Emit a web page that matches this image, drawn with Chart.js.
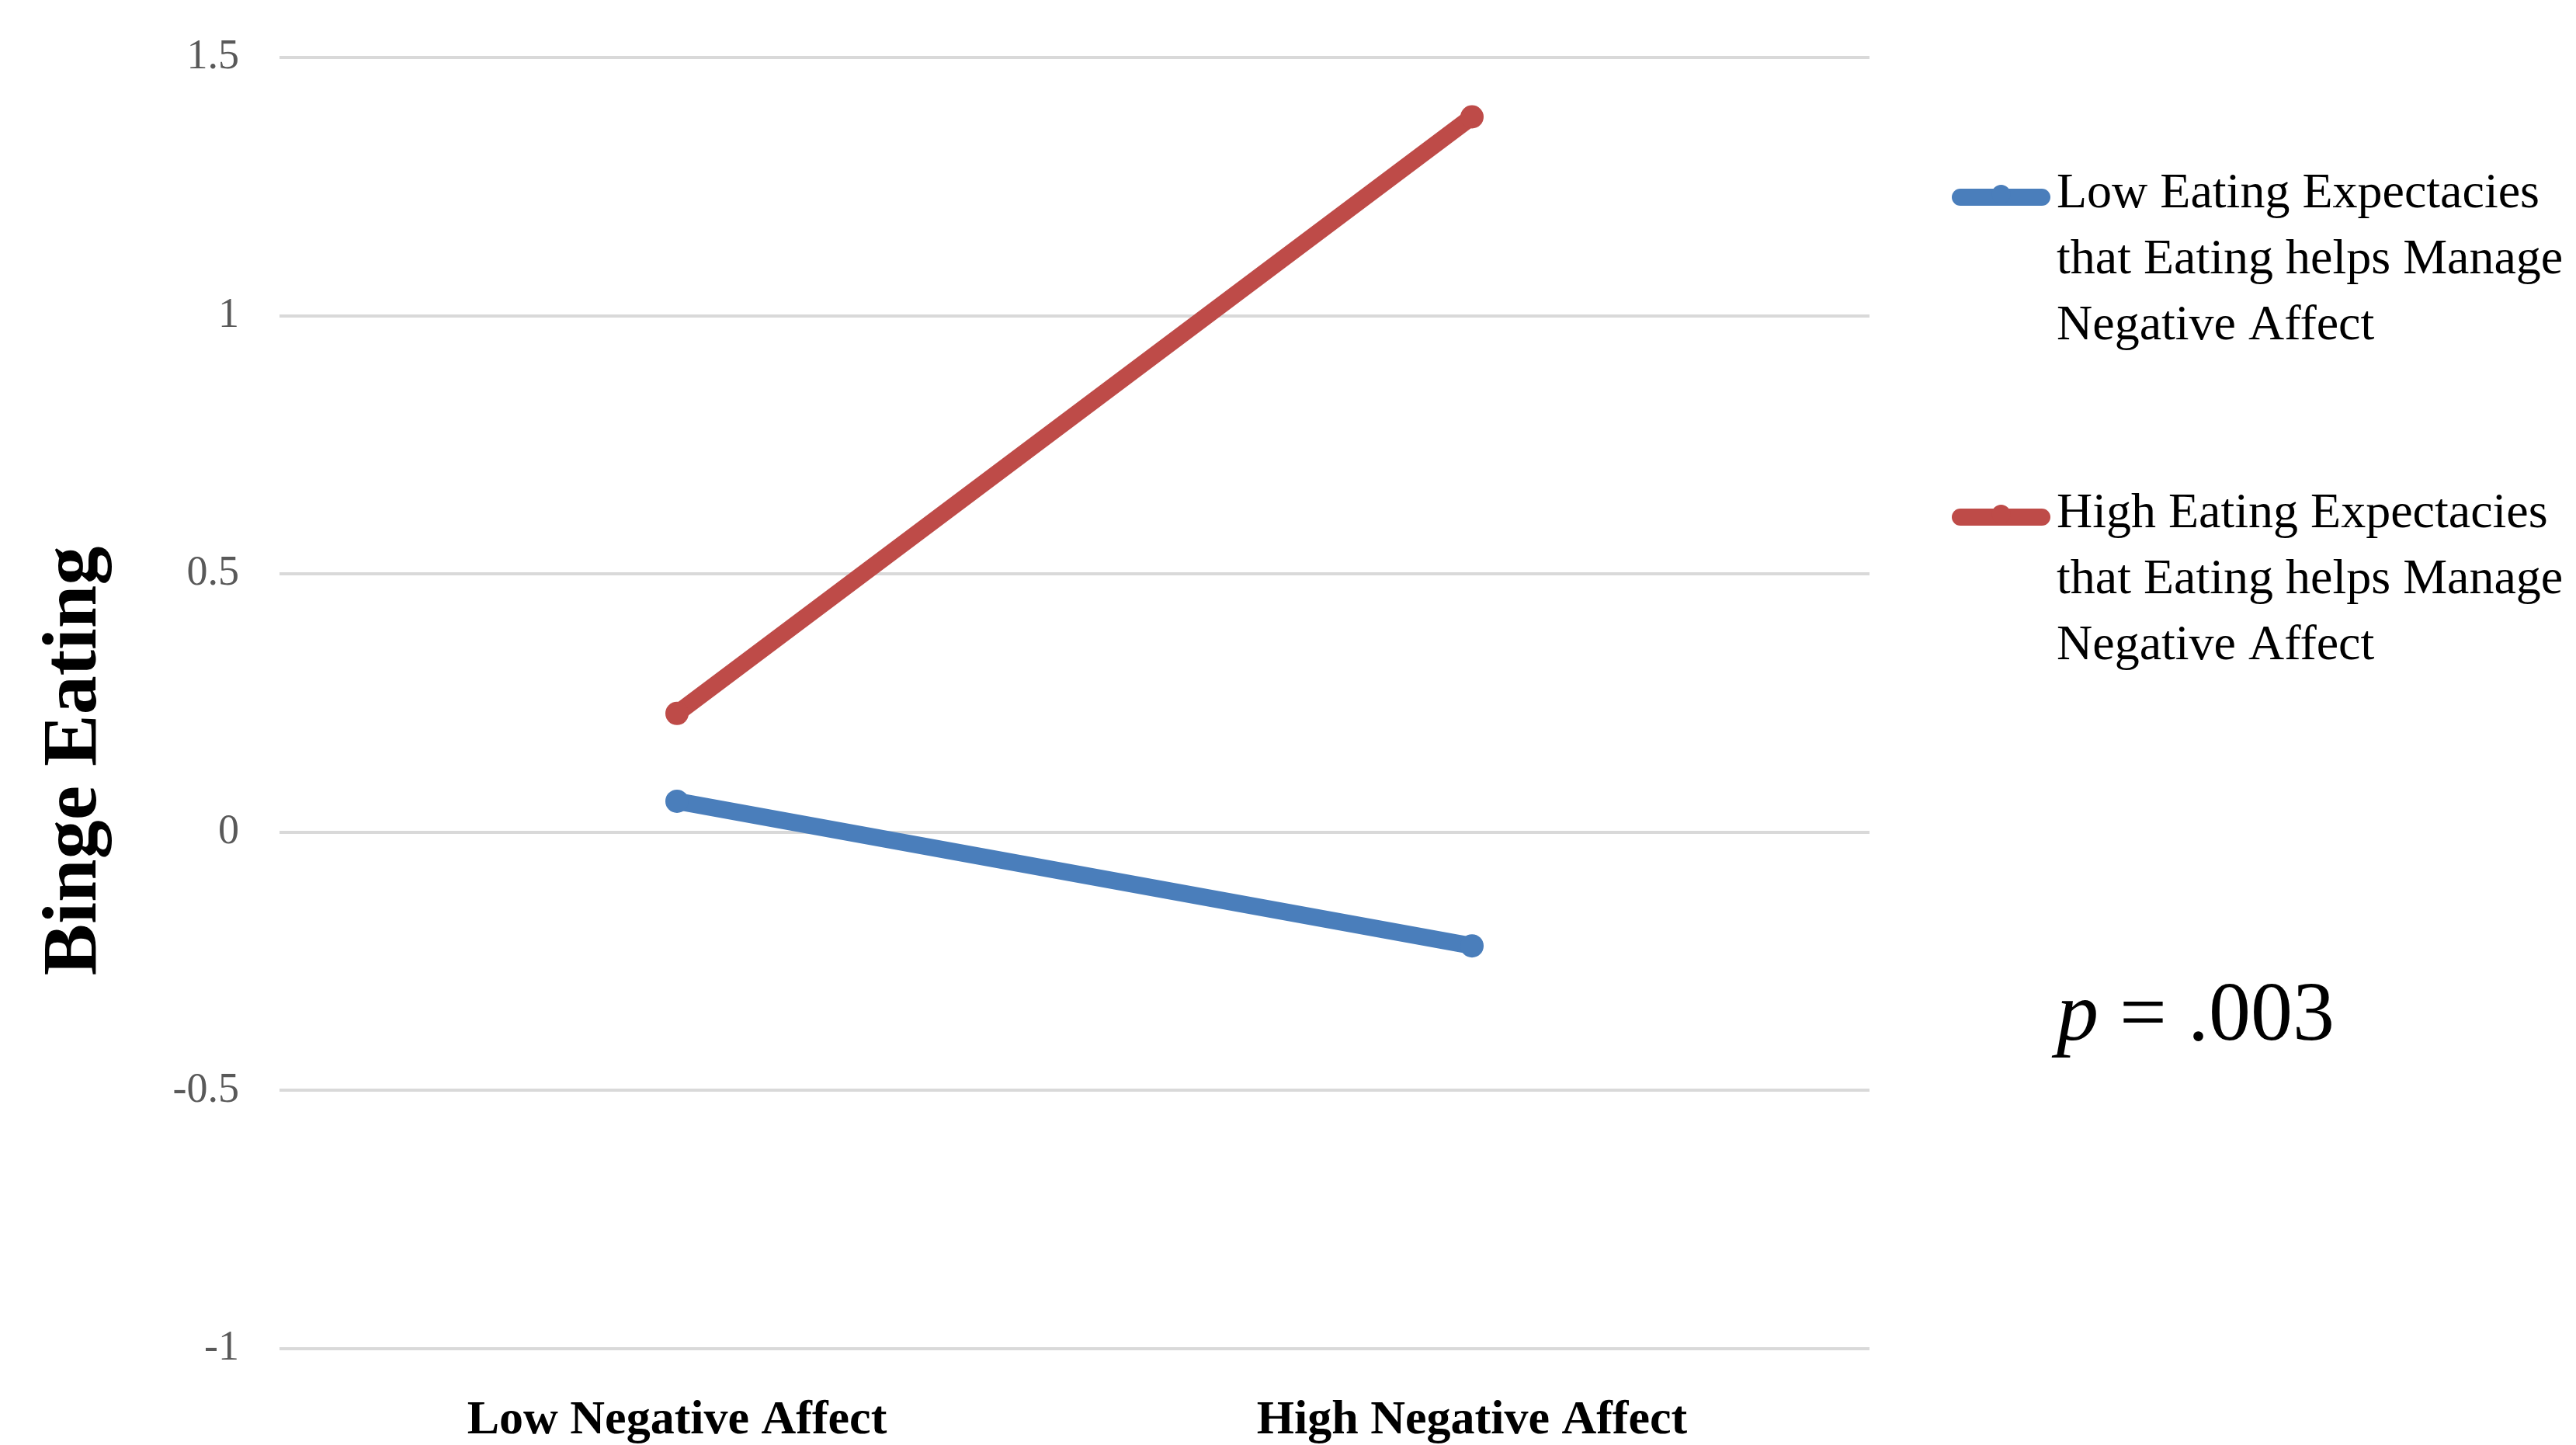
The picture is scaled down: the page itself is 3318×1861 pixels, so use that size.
<!DOCTYPE html>
<html>
<head>
<meta charset="utf-8">
<script src="https://cdn.jsdelivr.net/npm/chart.js@4/dist/chart.umd.min.js"></script>
<style>
  html, body { margin: 0; padding: 0; background: #ffffff; }
  #wrap { width: 3318px; height: 1861px; position: relative; }
</style>
</head>
<body>
<div id="wrap"><canvas id="grafico"></canvas></div>
<script>
var categorias = ["Low Negative Affect", "High Negative Affect"];
var baixaExpectativa = [0.06, -0.22];
var altaExpectativa = [0.23, 1.385];
var legendas = [
  "Low Eating Expectacies that Eating helps Manage Negative Affect",
  "High Eating Expectacies that Eating helps Manage Negative Affect"
];
var cores = ["#4A7EBB", "#BE4B48"];
var tickValores = [-1, -0.5, 0, 0.5, 1, 1.5];
var tituloY = "Binge Eating";
var pTexto = ["p", " = .003"];

// legenda lateral com quebra de linha, titulo do eixo y e o valor de p
var legendaPlugin = {
  id: "legendaLateral",
  afterDraw: function (chart) {
    var ctx = chart.ctx;
    var x0 = 2514, x1 = 2641, tx = 2649;
    var tops = [250, 662];
    var alturaLinha = 85;
    ctx.save();
    ctx.font = "64px 'Liberation Serif'";
    ctx.textBaseline = "middle";
    ctx.textAlign = "left";
    chart.data.datasets.forEach(function (ds, i) {
      var y = tops[i];
      ctx.strokeStyle = ds.borderColor;
      ctx.lineWidth = 22;
      ctx.lineCap = "round";
      ctx.beginPath();
      ctx.moveTo(x0 + 11, y + 4);
      ctx.lineTo(x1 - 11, y + 4);
      ctx.stroke();
      ctx.fillStyle = ds.borderColor;
      ctx.beginPath();
      ctx.arc((x0 + x1) / 2, y, 12, 0, Math.PI * 2);
      ctx.fill();

      var palavras = ds.label.split(" ");
      var linhas = [];
      var atual = "";
      palavras.forEach(function (p) {
        var teste = atual ? atual + " " + p : p;
        if (ctx.measureText(teste).width > 668 && atual) {
          linhas.push(atual);
          atual = p;
        } else {
          atual = teste;
        }
      });
      linhas.push(atual);
      ctx.fillStyle = "#000000";
      linhas.forEach(function (l, j) {
        ctx.fillText(l, tx, y + j * alturaLinha);
      });
    });

    // titulo do eixo y
    ctx.save();
    ctx.translate(97, 980);
    ctx.rotate(-Math.PI / 2);
    ctx.textAlign = "center";
    ctx.textBaseline = "middle";
    ctx.font = "bold 100px 'Liberation Serif'";
    ctx.fillStyle = "#000000";
    ctx.fillText(tituloY, 0, 0);
    ctx.restore();

    ctx.textBaseline = "alphabetic";
    ctx.fillStyle = "#000000";
    ctx.font = "italic 108px 'Liberation Serif'";
    ctx.fillText(pTexto[0], 2649, 1339);
    var w = ctx.measureText(pTexto[0]).width;
    ctx.font = "108px 'Liberation Serif'";
    ctx.fillText(pTexto[1], 2649 + w, 1339);
    ctx.restore();
  }
};

var ctx = document.getElementById("grafico").getContext("2d");
var myChart = new Chart(ctx, {
  type: "line",
  data: {
    labels: categorias,
    datasets: [
      {
        label: legendas[0],
        data: baixaExpectativa,
        borderColor: cores[0],
        backgroundColor: cores[0],
        borderWidth: 22,
        borderCapStyle: "round",
        pointRadius: 15,
        pointBorderWidth: 0,
        fill: false,
      },
      {
        label: legendas[1],
        data: altaExpectativa,
        borderColor: cores[1],
        backgroundColor: cores[1],
        borderWidth: 22,
        borderCapStyle: "round",
        pointRadius: 15,
        pointBorderWidth: 0,
        fill: false,
      },
    ],
  },
  options: {
    responsive: true,
    maintainAspectRatio: false,
    animation: false,
    layout: { padding: { left: 0, top: 74, right: 910, bottom: 0 } },
    plugins: {
      legend: { display: false },
      tooltip: { enabled: false },
    },
    scales: {
      x: {
        offset: true,
        grid: { display: false },
        border: { display: false },
        ticks: {
          color: "#000000",
          padding: 48,
          font: { family: "'Liberation Serif'", size: 62, weight: "bold" },
        },
        afterFit: function (scale) {
          scale.height = 124;
          scale.paddingLeft = 0;
          scale.paddingRight = 0;
        },
      },
      y: {
        min: -1,
        max: 1.5,
        afterBuildTicks: function (scale) {
          scale.ticks = tickValores.map(function (v) { return { value: v }; });
        },
        grid: { color: "#d9d9d9", lineWidth: 4, drawTicks: false },
        border: { display: false },
        ticks: {
          color: "#595959",
          padding: 52,
          font: { family: "'Liberation Serif'", size: 54 },
          callback: function (v) { return String(v); },
        },
        afterFit: function (scale) {
          scale.width = 360;
          scale.paddingTop = 0;
          scale.paddingBottom = 0;
        },
      },
    },
  },
  plugins: [legendaPlugin],
});
</script>
</body>
</html>
